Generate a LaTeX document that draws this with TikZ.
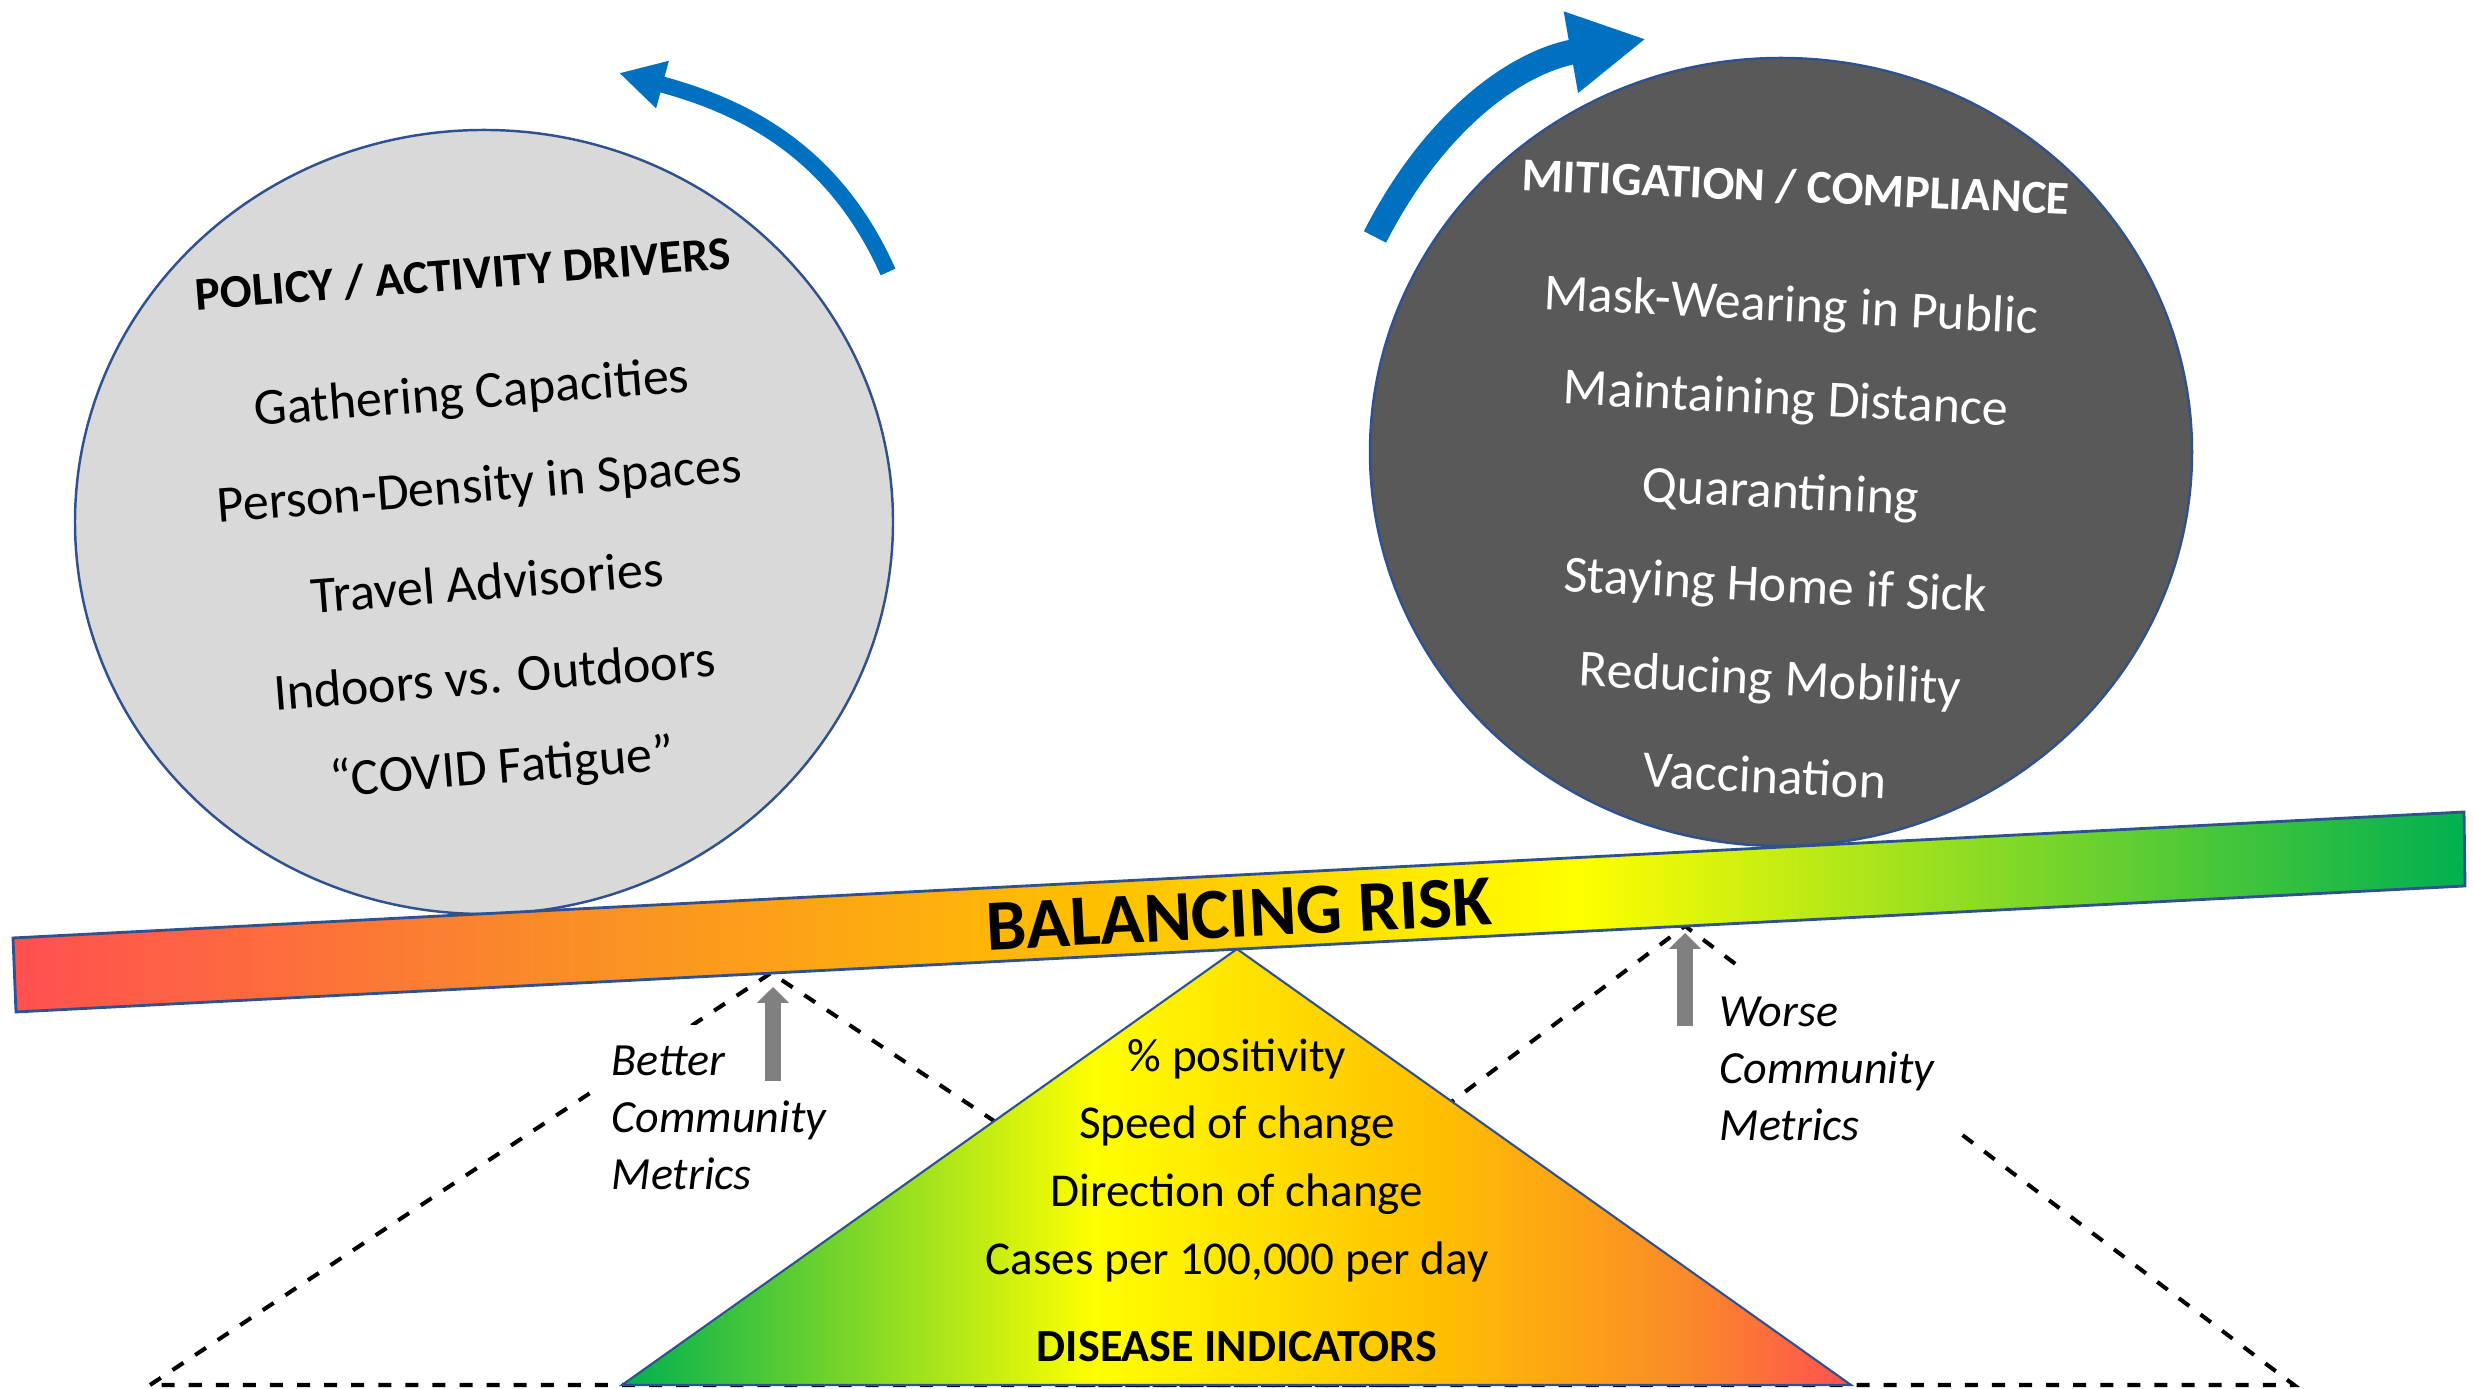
\documentclass[tikz,border=0pt]{standalone}
\usepackage{fontspec}
\setmainfont{Carlito}
\usetikzlibrary{arrows.meta}
\definecolor{riskred}{HTML}{FF5050}
\definecolor{riskorange}{HTML}{FA8C28}
\definecolor{riskgold}{HTML}{FFC000}
\definecolor{riskyellow}{HTML}{FFFF00}
\definecolor{riskgreen}{HTML}{00B050}
\definecolor{edgeblue}{HTML}{2F528F}
\definecolor{turnblue}{HTML}{0070C0}
\definecolor{lightdisc}{HTML}{D9D9D9}
\definecolor{darkdisc}{HTML}{595959}
\definecolor{liftgray}{HTML}{808080}
\pgfdeclarehorizontalshading{beamshade}{100bp}{color(0bp)=(riskred); color(25bp)=(riskred); color(36bp)=(riskorange); color(47.25bp)=(riskgold); color(56.9bp)=(riskyellow); color(75bp)=(riskgreen); color(100bp)=(riskgreen)}
\pgfdeclarehorizontalshading{fulcrumshade}{100bp}{color(0bp)=(riskgreen); color(25bp)=(riskgreen); color(44.3bp)=(riskyellow); color(57.9bp)=(riskgold); color(68bp)=(riskorange); color(75bp)=(riskred); color(100bp)=(riskred)}
\tikzset{
    pivotline/.style={black, line width=1.15pt, dash pattern=on 3.7pt off 4pt},
    disc/.style={draw=edgeblue, line width=0.7pt},
    discitem/.style={font=\fontsize{14.8}{17}\selectfont},
    dischead/.style={font=\bfseries\fontsize{13.4}{16}\selectfont},
    indicator/.style={font=\fontsize{13.4}{16}\selectfont},
    metricnote/.style={font=\itshape\fontsize{13.1}{16.3}\selectfont, align=left, fill=white, anchor=north west, inner xsep=5.7pt},
    liftarrow/.style={liftgray, line width=4.5pt, -{Triangle[length=4.5pt,width=8.8pt]}},
    turnarrow/.style={turnblue}
}
\begin{document}
\begin{tikzpicture}[x=0.01cm, y=0.01cm]
        \useasboundingbox (0,0) rectangle (2473,1389);
        \draw[pivotline] (150,4) -- (771,416) -- (1392,4) -- cycle;
        \draw[pivotline] (1076,4) -- (1685,463) -- (2294,4) -- cycle;
        \node[metricnote, inner ysep=6pt] (better) at (591,365) {Better\\Community\\Metrics};
        \node[metricnote, inner ysep=7.7pt] (worse) at (1699,420) {Worse\\Community\\Metrics};
        \coordinate (betterfoot) at (773,308);
        \coordinate (betterpivot) at (773,402);
        \coordinate (worsefoot) at (1685,363);
        \coordinate (worsepivot) at (1685,456);
        \draw[liftarrow] (betterfoot) -- (betterpivot);
        \draw[liftarrow] (worsefoot) -- (worsepivot);
        \shadedraw[shading=fulcrumshade, draw=edgeblue, line width=0.6pt] (622,4) -- (1237,440) -- (1851,4) -- cycle;
        \foreach \label [count=\i from 0] in {{\% positivity}, {Speed of change}, {Direction of change}, {Cases per 100,000 per day}} {
            \node[indicator] (ind\i) at (1237, {330-67.7*\i}) {\label};
        }
        \node[indicator, font=\bfseries\fontsize{13.1}{16}\selectfont] (indhead) at (1237,42) {DISEASE INDICATORS};
        \draw[disc, fill=lightdisc] (484,867) ellipse [x radius=409, y radius=392];
        \draw[disc, fill=darkdisc] (1781,937) ellipse [x radius=411, y radius=394];
        \node[dischead, rotate=4.5] (drivehead) at (463,1115) {POLICY / ACTIVITY DRIVERS};
        \foreach \label [count=\i from 0] in {Gathering Capacities, Person-Density in Spaces, Travel Advisories, Indoors vs. Outdoors, “COVID Fatigue”} {
            \node[discitem, rotate=4.5] (drive\i) at ({472+7.5*\i}, {994-93.5*\i}) {\label};
        }
        \node[dischead, white, rotate=-2.5] (mitighead) at (1796,1202) {MITIGATION / COMPLIANCE};
        \foreach \label [count=\i from 0] in {Mask-Wearing in Public, Maintaining Distance, Quarantining, Staying Home if Sick, Reducing Mobility, Vaccination} {
            \node[discitem, white, rotate=-2.8] (mitig\i) at ({1791-5.2*\i}, {1081-93.4*\i}) {\label};
        }
        \shadedraw[shading=beamshade, draw=edgeblue, line width=0.8pt] (16,377) -- (2465,503) -- (2464,577) -- (13,451) -- cycle;
        \node[font=\bfseries\fontsize{20.5}{24}\selectfont, rotate=2.9] (balance) at (1239,475) {BALANCING RISK};
        \coordinate (policytail) at (888,1117);
        \coordinate (policytip) at (619,1316);
        \coordinate (mitigtail) at (1375,1152);
        \coordinate (mitigtip) at (1646,1350);
        \draw[turnarrow, line width=4.6pt, -{Triangle[length=12.8pt,width=13pt]}] (policytail) to[out=114,in=-15] (policytip);
        \draw[turnarrow, line width=7.1pt, -{Triangle[length=21.7pt,width=21.9pt]}] (mitigtail) to[out=63,in=190] (mitigtip);
    \end{tikzpicture}
\end{document}
